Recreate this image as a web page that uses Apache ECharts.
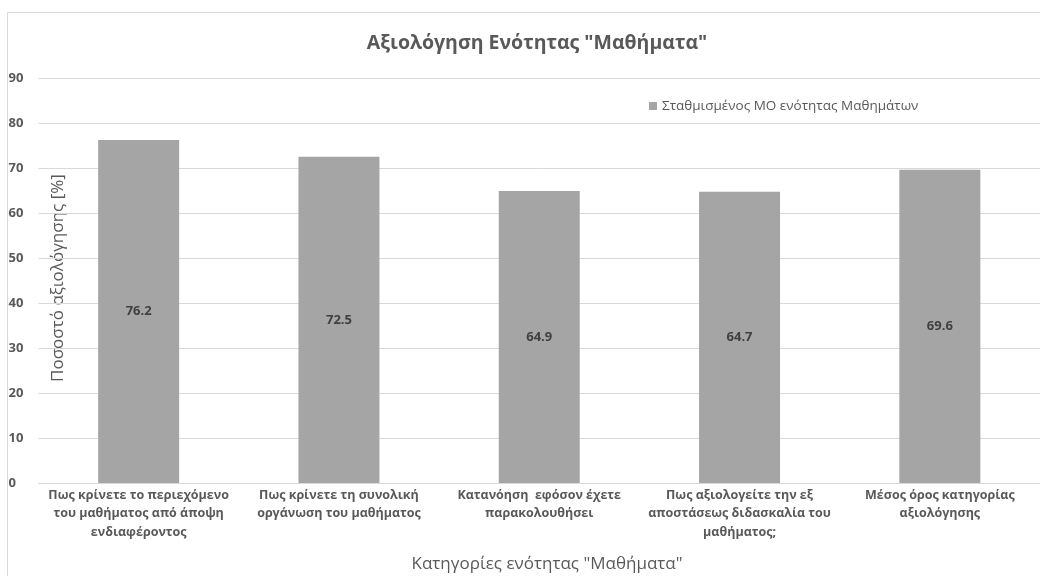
<!DOCTYPE html>
<html><head><meta charset="utf-8">
<script src="https://cdn.jsdelivr.net/npm/echarts@6/dist/echarts.min.js"></script>
<style>html,body{margin:0;padding:0;background:#fff}#c{width:1040px;height:576px}</style>
</head><body><div id="c"></div>
<script>
const categories = [
  'Πως κρίνετε το περιεχόμενο\nτου μαθήματος από άποψη\nενδιαφέροντος',
  'Πως κρίνετε τη συνολική\nοργάνωση του μαθήματος',
  'Κατανόηση  εφόσον έχετε\nπαρακολουθήσει',
  'Πως αξιολογείτε την εξ\nαποστάσεως διδασκαλία του\nμαθήματος;',
  'Μέσος όρος κατηγορίας\nαξιολόγησης'
];
const values = [76.2, 72.5, 64.9, 64.7, 69.6];
const seriesName = 'Σταθμισμένος ΜΟ ενότητας Μαθημάτων';
const titleText = 'Αξιολόγηση Ενότητας "Μαθήματα"';
const xName = 'Κατηγορίες ενότητας "Μαθήματα"';
const yName = 'Ποσοστό αξιολόγησης [%]';

const FONT = '"Open Sans", "Noto Sans", sans-serif';
const chart = echarts.init(document.getElementById('c'), null, {renderer: 'canvas'});
chart.setOption({
  animation: false,
  textStyle: {fontFamily: FONT},
  title: {
    text: titleText, left: 532, top: 28, textAlign: 'center',
    textStyle: {fontFamily: FONT, fontSize: 19.5, fontWeight: 'bold', color: '#595959'}
  },
  legend: {
    left: 644, top: 94, itemWidth: 8, itemHeight: 8, itemGap: 6,
    icon: 'rect',
    textStyle: {fontFamily: FONT, fontSize: 13.5, color: '#595959'},
    data: [seriesName]
  },
  graphic: [
    {type: 'rect', shape: {x: 7.5, y: 12.5, width: 1100, height: 700},
     style: {fill: 'none', stroke: '#d9d9d9', lineWidth: 1}, silent: true, z: -1},
    {type: 'text', x: 58, y: 278, rotation: Math.PI / 2,
     style: {text: yName, fontFamily: FONT, fontSize: 17, fill: '#595959',
             align: 'center', verticalAlign: 'middle'}},
    {type: 'text', x: 547, y: 564,
     style: {text: xName, fontFamily: FONT, fontSize: 17, fill: '#595959',
             align: 'center', verticalAlign: 'middle'}}
  ],
  grid: {left: 38.5, top: 78, width: 1015, bottom: 93, containLabel: false},
  xAxis: {
    type: 'category', data: categories,
    axisLine: {show: true, lineStyle: {color: '#d9d9d9', width: 1}},
    axisTick: {show: false},
    axisLabel: {interval: 0, fontFamily: FONT, fontSize: 12.5, fontWeight: 'bold',
                color: '#595959', lineHeight: 18.5, margin: 3}
  },
  yAxis: {
    type: 'value', min: 0, max: 90, interval: 10,
    axisLine: {show: false}, axisTick: {show: false},
    splitLine: {lineStyle: {color: '#d9d9d9', width: 1}},
    axisLabel: {fontFamily: FONT, fontSize: 13, fontWeight: 'bold', color: '#595959',
                align: 'left', margin: 30}
  },
  series: [{
    name: seriesName, type: 'bar', data: values, barWidth: 81,
    itemStyle: {color: '#a5a5a5'},
    label: {show: true, position: 'inside', fontFamily: FONT, fontSize: 13,
            fontWeight: 'bold', color: '#404040', formatter: p => p.value.toFixed(1)}
  }]
});
</script></body></html>
